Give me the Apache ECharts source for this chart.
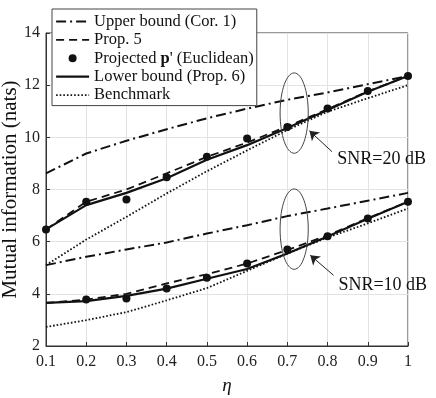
<!DOCTYPE html>
<html>
<head>
<meta charset="utf-8">
<script src="https://cdn.jsdelivr.net/npm/echarts@6/dist/echarts.min.js"></script>
<style>
  html, body { margin: 0; padding: 0; background: #fff; }
  #chart { width: 436px; height: 398px; }
</style>
</head>
<body>
<div id="chart"></div>
<script>
var eta = [0.1, 0.2, 0.3, 0.4, 0.5, 0.6, 0.7, 0.8, 0.9, 1.0];

// SNR = 20 dB
var upper20 = [8.62, 9.38, 9.87, 10.31, 10.73, 11.1, 11.44, 11.72, 12.04, 12.35];
var prop5_20 = [6.47, 7.53, 8.0, 8.62, 9.25, 9.8, 10.42, 11.08, 11.76, 12.35];
var proj20 = [6.47, 7.53, 7.62, 8.47, 9.26, 9.96, 10.4, 11.11, 11.78, 12.35];
var lower20 = [6.47, 7.4, 7.87, 8.43, 9.14, 9.7, 10.36, 11.05, 11.75, 12.35];
var bench20 = [5.1, 6.08, 6.95, 7.85, 8.7, 9.5, 10.28, 10.98, 11.5, 12.0];

// SNR = 10 dB
var upper10 = [5.1, 5.42, 5.7, 5.97, 6.31, 6.63, 6.98, 7.27, 7.57, 7.87];
var prop5_10 = [3.65, 3.78, 4.0, 4.4, 4.75, 5.16, 5.68, 6.24, 6.9, 7.53];
var proj10 = [null, 3.78, 3.82, 4.2, 4.62, 5.16, 5.7, 6.21, 6.89, 7.53];
var lower10 = [3.65, 3.72, 3.92, 4.2, 4.58, 4.95, 5.55, 6.2, 6.88, 7.53];
var bench10 = [2.73, 2.99, 3.3, 3.75, 4.22, 4.88, 5.54, 6.16, 6.7, 7.27];

var names = ['Upper bound (Cor. 1)', 'Prop. 5', 'Projected', 'Lower bound (Prop. 6)', 'Benchmark'];

// annotations in data coordinates
var ellipses = [[0.717, 10.93], [0.717, 6.48]];
var arrows = [[[0.811, 9.45], [0.755, 10.25]], [[0.815, 4.71], [0.757, 5.48]]];
var labels = [['SNR=20 dB', 0.824, 9.17], ['SNR=10 dB', 0.827, 4.33]];

var font = 'Liberation Serif';
var ink = '#111';

function pairs(ys) {
  return eta.map(function (x, i) { return [x, ys[i]]; });
}

function lineSeries(name, ys, dash, width) {
  return {
    name: name,
    type: 'line',
    data: pairs(ys),
    symbol: 'none',
    lineStyle: { color: ink, width: width, type: dash, cap: 'butt' },
    itemStyle: { color: ink },
    z: 3
  };
}

var dashDot = [10, 4, 2, 4];
var dashed = [8, 5];
var dotted = [1.6, 2];

var chart = echarts.init(document.getElementById('chart'));

chart.setOption({
  backgroundColor: '#fff',
  animation: false,
  grid: {
    left: 46, right: 28, top: 33, bottom: 52,
    outerBoundsMode: 'none',
    show: true, borderColor: '#333', borderWidth: 1
  },
  legend: {
    left: 52,
    top: 9,
    orient: 'vertical',
    itemWidth: 33,
    itemHeight: 8,
    itemGap: 1.4,
    padding: [4, 3, 2, 3],
    backgroundColor: '#fff',
    borderColor: '#444',
    borderWidth: 1,
    lineStyle: { width: 'inherit' },
    textStyle: {
      fontFamily: font, fontSize: 16.5, color: ink,
      rich: {
        n: { fontFamily: font, fontSize: 16.5, color: ink },
        b: { fontFamily: font, fontSize: 16.5, color: ink, fontWeight: 'bold' }
      }
    },
    formatter: function (name) {
      if (name === 'Projected') return '{n|Projected }{b|p}{n|\' (Euclidean)}';
      return name;
    },
    data: names.map(function (n) {
      if (n === 'Projected') return { name: n };
      return { name: n, itemStyle: { opacity: 0, color: 'rgba(0,0,0,0)', borderWidth: 0 } };
    })
  },
  xAxis: {
    type: 'value',
    min: 0.1,
    max: 1,
    interval: 0.1,
    name: 'η',
    nameLocation: 'middle',
    nameGap: 30,
    nameMoveOverlap: false,
    nameTextStyle: { fontFamily: font, fontSize: 19, fontStyle: 'italic', color: ink },
    axisLine: { lineStyle: { color: '#333' } },
    axisTick: { inside: true, length: 4, lineStyle: { color: '#333' } },
    axisLabel: {
      fontFamily: font, fontSize: 16, color: '#222', margin: 8,
      formatter: function (v) { return +v.toFixed(1) + ''; }
    },
    splitLine: { show: true, lineStyle: { color: '#e3e3e3' } }
  },
  yAxis: {
    type: 'value',
    min: 2,
    max: 14,
    interval: 2,
    name: 'Mutual information (nats)',
    nameLocation: 'middle',
    nameGap: 25,
    nameMoveOverlap: false,
    nameTextStyle: { fontFamily: font, fontSize: 21, color: ink },
    axisLine: { show: true, lineStyle: { color: '#333' } },
    axisTick: { show: true, inside: true, length: 4, lineStyle: { color: '#333' } },
    axisLabel: { fontFamily: font, fontSize: 16, color: '#222', margin: 6 },
    splitLine: { show: true, lineStyle: { color: '#e3e3e3' } }
  },
  series: [
    lineSeries(names[0], upper20, dashDot, 2),
    lineSeries(names[0], upper10, dashDot, 2),
    lineSeries(names[1], prop5_20, dashed, 1.8),
    lineSeries(names[1], prop5_10, dashed, 1.8),
    {
      name: names[2], type: 'scatter', data: pairs(proj20), symbol: 'circle', symbolSize: 8,
      itemStyle: { color: ink, opacity: 1 }, z: 4
    },
    {
      name: names[2], type: 'scatter', data: pairs(proj10), symbol: 'circle', symbolSize: 8,
      itemStyle: { color: ink, opacity: 1 }, z: 4
    },
    lineSeries(names[3], lower20, 'solid', 2.2),
    lineSeries(names[3], lower10, 'solid', 2.2),
    lineSeries(names[4], bench20, dotted, 1.8),
    lineSeries(names[4], bench10, dotted, 1.8),
    {
      // arrows for the SNR annotations
      type: 'line', data: [], silent: true,
      markLine: {
        silent: true,
        symbol: ['none', 'arrow'],
        symbolSize: 9,
        label: { show: false },
        lineStyle: { color: '#222', width: 1, type: 'solid' },
        data: arrows.map(function (a) {
          return [{ coord: a[0] }, { coord: a[1] }];
        })
      }
    }
  ]
});

// ellipses and labels placed from data coordinates
var g = [];
ellipses.forEach(function (e) {
  var c = chart.convertToPixel({ gridIndex: 0 }, e);
  var r = chart.convertToPixel({ gridIndex: 0 }, [e[0] + 0.035, e[1] + 1.54]);
  g.push({
    type: 'ellipse',
    shape: { cx: c[0], cy: c[1], rx: r[0] - c[0], ry: c[1] - r[1] },
    style: { fill: 'none', stroke: '#444', lineWidth: 1 },
    z: 5
  });
});
labels.forEach(function (l) {
  var p = chart.convertToPixel({ gridIndex: 0 }, [l[1], l[2]]);
  g.push({
    type: 'text',
    x: p[0], y: p[1],
    style: { text: l[0], font: '18px "Liberation Serif"', fill: ink, verticalAlign: 'middle' },
    z: 5
  });
});
chart.setOption({ graphic: g });
</script>
</body>
</html>
